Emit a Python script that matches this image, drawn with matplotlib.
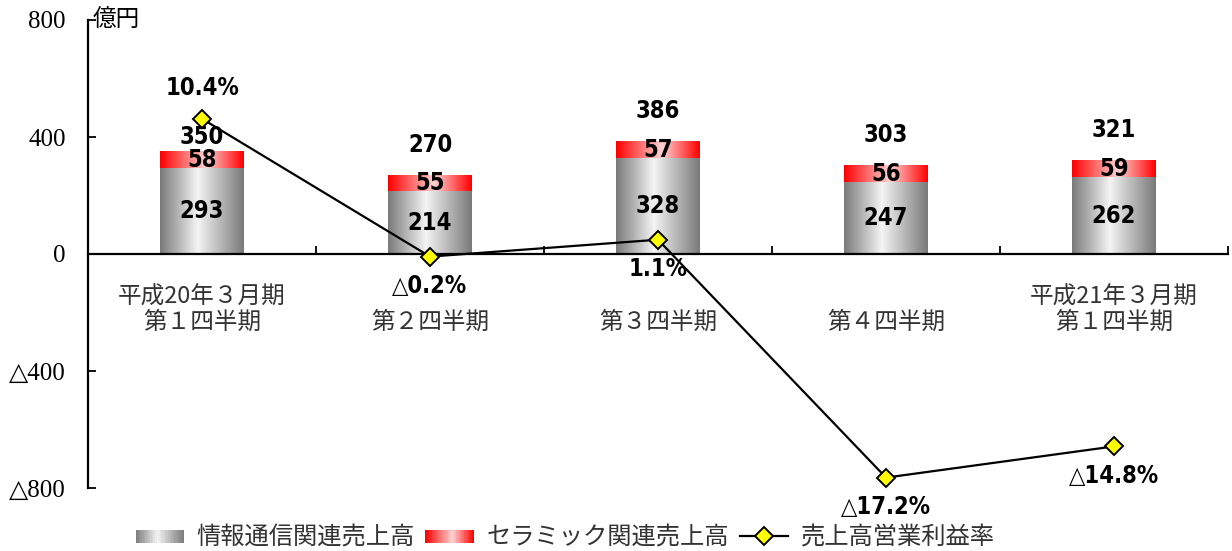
import numpy as np
import matplotlib
matplotlib.use('Agg')
import matplotlib.pyplot as plt
from matplotlib.colors import LinearSegmentedColormap
from matplotlib.legend_handler import HandlerBase
from matplotlib.patches import Rectangle
from matplotlib.lines import Line2D
from matplotlib.ticker import FixedLocator, NullFormatter

categories = ['平成20年３月期\n第１四半期', '第２四半期', '第３四半期',
              '第４四半期', '平成21年３月期\n第１四半期']
info_comm = [293, 214, 328, 247, 262]
ceramic = [58, 55, 57, 56, 59]
totals = [350, 270, 386, 303, 321]
margin = [10.4, -0.2, 1.1, -17.2, -14.8]
margin_labels = ['10.4%', '△0.2%', '1.1%', '△17.2%', '△14.8%']
yticks = [800, 400, 0, -400, -800]
ytick_labels = ['800', '400', '0', '△400', '△800']
series_names = ['情報通信関連売上高', 'セラミック関連売上高', '売上高営業利益率']

serif_font = ['Liberation Serif', 'DejaVu Serif', 'DejaVu Sans']
jp_font = ['Noto Sans CJK JP', 'DejaVu Sans']
plt.rcParams['font.family'] = serif_font
plt.rcParams['ytick.labelsize'] = 18

gray_cm = LinearSegmentedColormap.from_list(
    'g', [(0, '#7a7a7a'), (0.45, '#f4f4f4'), (1, '#7a7a7a')])
red_cm = LinearSegmentedColormap.from_list(
    'r', [(0, '#ff0000'), (0.55, '#ffd2d2'), (1, '#ff0000')])

fig = plt.figure(figsize=(12.32, 5.51), dpi=100)
ax = fig.add_axes([88/1232, 1-488/551, 1140/1232, 468/551])

x = np.arange(len(categories))
w = 0.365
grad = np.linspace(0, 1, 128)[np.newaxis, :]


def gradient_bars(bars, cmap):
    for b in bars:
        im = ax.imshow(grad, cmap=cmap, aspect='auto', zorder=2,
                       extent=(b.get_x(), b.get_x()+b.get_width(),
                               b.get_y(), b.get_y()+b.get_height()))
        im.set_clip_path(b)


b1 = ax.bar(x, info_comm, w, color='none', edgecolor='none', zorder=2)
b2 = ax.bar(x, ceramic, w, bottom=info_comm, color='none', edgecolor='none', zorder=2)
gradient_bars(b1, gray_cm)
gradient_bars(b2, red_cm)

lbl = dict(family='DejaVu Sans', fontstretch='condensed', fontweight='bold',
           fontsize=17, ha='center', va='center', zorder=5)
for i in x:
    ax.text(i, info_comm[i]/2, str(info_comm[i]), **lbl)
    ax.text(i, info_comm[i]+ceramic[i]/2, str(ceramic[i]), **lbl)
    off = 10 if i == 0 else 22
    ax.annotate(str(totals[i]), (i, info_comm[i]+ceramic[i]), xytext=(0, off),
                textcoords='offset points', **lbl)

ax.set_xlim(-0.5, len(categories)-0.5)
ax.set_ylim(-800, 800)
for s in ['top', 'right']:
    ax.spines[s].set_visible(False)
ax.spines['bottom'].set_position(('data', 0))
ax.spines['bottom'].set_linewidth(1.6)
ax.spines['left'].set_linewidth(1.6)

# ticks between the categories, labels hung below the zero line
ax.xaxis.set_major_locator(FixedLocator(np.arange(len(categories)+1)-0.5))
ax.xaxis.set_major_formatter(NullFormatter())
ax.tick_params(axis='x', which='major', direction='in', length=6, width=1.3)
for i, c in zip(x, categories):
    ax.text(i, -257, c, family=jp_font, fontsize=17, color='#333333',
            ha='center', va='baseline', multialignment='center', linespacing=1.15)

ax.yaxis.set_major_locator(FixedLocator(yticks))
ax.set_yticklabels(ytick_labels)
ax.tick_params(axis='y', direction='in', length=6, width=1.3, pad=16)
ax.text(0.004, 1.0, '億円', transform=ax.transAxes, family=jp_font,
        fontsize=17, ha='left', va='center')

ax2 = ax.twinx()
ax2.set_ylim(-18, 18)
ax2.axis('off')
ax2.plot(x, margin, color='black', lw=1.6, marker='D', markersize=9,
         markerfacecolor='#ffff00', markeredgecolor='black', markeredgewidth=1.4,
         zorder=4)
for i in x:
    dy = 22 if margin[i] > 5 else -21
    ax2.annotate(margin_labels[i], (i, margin[i]), xytext=(0, dy),
                 textcoords='offset points', **lbl)


class HandlerGradient(HandlerBase):
    def __init__(self, cmap):
        super().__init__()
        self.cmap = cmap

    def create_artists(self, legend, orig_handle, xdescent, ydescent,
                       width, height, fontsize, trans):
        n = 30
        arts = []
        for k in range(n):
            r = Rectangle((-xdescent + k*width/n, -ydescent + height*0.1),
                          width/n*1.05, height*0.8,
                          facecolor=self.cmap((k+0.5)/n), edgecolor='none',
                          lw=0, transform=trans)
            arts.append(r)
        return arts


h1 = Rectangle((0, 0), 1, 1)
h2 = Rectangle((0, 0), 1, 1)
h3 = Line2D([], [], color='black', lw=1.6, marker='D', markersize=9,
            markerfacecolor='#ffff00', markeredgecolor='black', markeredgewidth=1.4)
leg = fig.legend([h1, h2, h3], series_names, loc='center',
                 bbox_to_anchor=(565/1232, 1-538/551), ncol=3, frameon=False,
                 handler_map={h1: HandlerGradient(gray_cm), h2: HandlerGradient(red_cm)},
                 prop={'family': jp_font, 'size': 17.5}, handlelength=2.0,
                 handletextpad=0.5, columnspacing=0.45, borderpad=0)
for t in leg.get_texts():
    t.set_color('#333333')

fig.savefig('out.png', dpi=100)
